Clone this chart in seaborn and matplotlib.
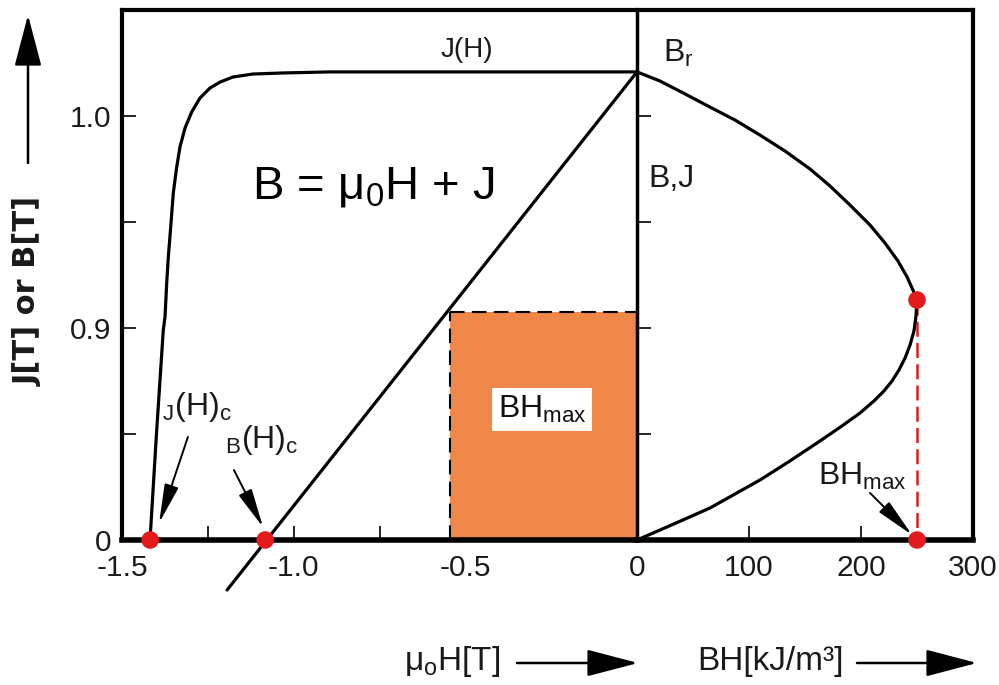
import numpy as np
import pandas as pd
import matplotlib
matplotlib.use("Agg")
import matplotlib.pyplot as plt
import matplotlib.patches as mpatches
import seaborn as sns

# ---------------- data ----------------
# J(H) demagnetisation curve (left panel, x = mu0*H [T])
jh_h = [-1.4184, -1.3989, -1.3797, -1.3747, -1.3698, -1.3651, -1.3581, -1.3506,
        -1.3407, -1.3311, -1.3165, -1.2970, -1.2728, -1.2437, -1.2146, -1.1767,
        -1.1184, -1.0310, -0.8941, 0.0]
jh_j = [0.8000, 0.8519, 0.8991, 0.9052, 0.9212, 0.9335, 0.9476, 0.9637,
        0.9759, 0.9854, 0.9943, 1.0019, 1.0085, 1.0132, 1.0160, 1.0184,
        1.0198, 1.0203, 1.0208, 1.0208]
# B(H) line
bh_h = [-1.194, 0.0]
bh_b = [0.7764, 1.0208]
# BH product curve (right panel, x = BH [kJ/m3])
prod_bh = [0, 20.5, 42.9, 65.2, 87.5, 109.8, 132.1, 154.5, 172.3, 190.2, 208.0,
           221.4, 233.0, 241.1, 246.4, 250.0, 249.1, 247.3, 243.8, 239.3, 233.9,
           227.7, 220.5, 211.6, 199.1, 183.0, 163.4, 136.6, 109.8, 87.5, 65.2,
           42.9, 20.5, 0]
prod_b = [1.0208, 1.0165, 1.0104, 1.0042, 0.9981, 0.9910, 0.9835, 0.9750,
          0.9670, 0.9580, 0.9486, 0.9401, 0.9316, 0.9241, 0.9179, 0.9132,
          0.9057, 0.8986, 0.8920, 0.8858, 0.8802, 0.8750, 0.8703, 0.8656,
          0.8599, 0.8538, 0.8467, 0.8373, 0.8283, 0.8217, 0.8151, 0.8099,
          0.8047, 0.8000]
# BHmax rectangle
rect_h = [-0.545, 0.0]
rect_b = 0.9075
# red points
left_pts_h = [-1.418, -1.083]
left_pts_b = [0.800, 0.800]
right_pts_bh = [250, 250]
right_pts_b = [0.9132, 0.800]
# ticks
left_xticks = [-1.5, -1.0, -0.5, 0.0]
left_xlabels = ["-1.5", "-1.0", "-0.5", "0"]
left_xminor = [-1.25, -0.75]
yticks = [0.8, 0.9, 1.0]
ylabels = ["0", "0.9", "1.0"]
yminor = [0.85, 0.95]
right_xticks = [100, 200, 300]
right_xlabels = ["100", "200", "300"]

ORANGE = "#EF8748"
RED = "#E41A1C"
TXT = "#1a1a1a"

# ---------------- style ----------------
sns.set_theme(style="white")
plt.rcParams["font.family"] = ["Liberation Sans", "DejaVu Sans"]
plt.rcParams["mathtext.fontset"] = "custom"
plt.rcParams["mathtext.rm"] = "Liberation Sans"

fig = plt.figure(figsize=(9.99, 6.85), dpi=100)
W, H = 999, 685

def fx(px):
    return px / W

def fy(py):
    return 1 - py / H

axL = fig.add_axes([fx(122), fy(540), fx(637) - fx(122), fy(10) - fy(540)])
axR = fig.add_axes([fx(637), fy(540), fx(973) - fx(637), fy(10) - fy(540)])

for ax in (axL, axR):
    ax.set_facecolor("white")
    ax.set_ylim(0.8, 1.05)
    for s in ax.spines.values():
        s.set_color("black")
        s.set_linewidth(3)
    ax.spines["bottom"].set_linewidth(4)
    ax.tick_params(which="both", direction="in", length=10, width=1.2,
                   colors="black", labelsize=21.5, labelcolor=TXT)
axL.set_xlim(-1.5, 0)
axR.set_xlim(0, 300)
axL.spines["right"].set_visible(False)
axR.spines["left"].set_linewidth(2.5)

# ---- left panel ----
axL.fill_between(rect_h, 0.8, rect_b, color=ORANGE, lw=0, zorder=1)
axL.plot([rect_h[0], rect_h[1]], [rect_b, rect_b], color="black", lw=1.5,
         ls=(0, (7, 3.5)), zorder=2)
axL.plot([rect_h[0], rect_h[0]], [0.8, rect_b], color="black", lw=1.5,
         ls=(0, (7, 3.5)), zorder=2)
sns.lineplot(x=jh_h, y=jh_j, ax=axL, color="black", lw=2.3, sort=False,
             estimator=None, zorder=3)
sns.lineplot(x=bh_h, y=bh_b, ax=axL, color="black", lw=2.3, sort=False,
             estimator=None, zorder=3, clip_on=False)
sns.scatterplot(x=left_pts_h, y=left_pts_b, ax=axL, color=RED, s=160,
                edgecolor="none", zorder=6, clip_on=False)

axL.set_xticks(left_xticks)
axL.set_xticklabels(left_xlabels)
axL.set_xticks(left_xminor, minor=True)
axL.set_yticks(yticks)
axL.set_yticklabels(ylabels)
axL.set_yticks(yminor, minor=True)
axL.tick_params(axis="x", which="both", bottom=True, pad=10)
axL.tick_params(axis="y", which="both", left=True, pad=8)

# ---- right panel ----
axR.plot([right_pts_bh[0], right_pts_bh[1]], [right_pts_b[0], right_pts_b[1]],
         color=RED, lw=1.8, ls=(0, (6, 2.5)), zorder=2)
sns.lineplot(x=prod_bh, y=prod_b, ax=axR, color="black", lw=2.3, sort=False,
             estimator=None, zorder=3)
sns.scatterplot(x=right_pts_bh, y=right_pts_b, ax=axR, color=RED, s=160,
                edgecolor="none", zorder=6, clip_on=False)
axR.set_xticks(right_xticks)
axR.set_xticklabels(right_xlabels)
axR.set_yticks([0.85, 0.9, 0.95, 1.0])
axR.set_yticklabels([])
axR.tick_params(axis="x", bottom=True, pad=10)
axR.tick_params(axis="y", left=True, right=False)
for ax in (axL, axR):
    ax.set_xlabel("")
    ax.set_ylabel("")

# ---- annotations ----
axL.text(-0.495, 1.0278, "J(H)", fontsize=20, ha="center", va="baseline", color=TXT)
axL.text(-1.1213, 0.9613, r"B = $\mathregular{μ_0}$H + J", fontsize=34,
         ha="left", va="baseline", color="black")
axL.text(-0.2766, 0.8575, r"BH$_\mathregular{max}$", fontsize=23, ha="center",
         va="baseline", color="#111111", zorder=5,
         bbox=dict(boxstyle="square,pad=0.18", fc="white", ec="none"))
axL.text(-1.282, 0.859, r"$_\mathregular{J}$(H)$_\mathregular{c}$", fontsize=23,
         ha="center", va="baseline", color=TXT)
axL.text(-1.092, 0.8434, r"$_\mathregular{B}$(H)$_\mathregular{c}$", fontsize=23,
         ha="center", va="baseline", color=TXT)
arrow_kw = dict(arrowstyle="-|>,head_length=1.2,head_width=0.22", color="black",
                lw=1.4, mutation_scale=20, shrinkA=0, shrinkB=0)
axL.annotate("", xy=(-1.392, 0.808), xytext=(-1.308, 0.8486), arrowprops=arrow_kw,
             annotation_clip=False)
axL.annotate("", xy=(-1.089, 0.806), xytext=(-1.174, 0.833), arrowprops=arrow_kw,
             annotation_clip=False)

axR.text(36.6, 1.0255, r"B$_\mathregular{r}$", fontsize=23, ha="center",
         va="baseline", color=TXT)
axR.text(31, 0.9665, "B,J", fontsize=23, ha="center", va="baseline", color=TXT)
axR.text(201, 0.826, r"BH$_\mathregular{max}$", fontsize=23, ha="center",
         va="baseline", color=TXT)
axR.annotate("", xy=(245.6, 0.8024), xytext=(208, 0.8222), arrowprops=arrow_kw,
             annotation_clip=False)

# ---- axis labels with arrows ----
fig.text(fx(28), fy(291), "J[T] or B[T]", rotation=90, ha="center", va="center",
         fontsize=22, fontweight="bold", family="DejaVu Sans", color=TXT)
head = "-|>,head_length=1.6,head_width=0.42"
fig.add_artist(mpatches.FancyArrowPatch(
    (fx(28), fy(163)), (fx(28), fy(15)), transform=fig.transFigure,
    arrowstyle=head, mutation_scale=20, color="black", lw=1.8, shrinkA=0, shrinkB=0))
fig.text(fx(452), fy(670), r"μ$_\mathregular{o}$H[T]", fontsize=24, ha="center",
         va="baseline", color=TXT)
fig.add_artist(mpatches.FancyArrowPatch(
    (fx(517), fy(663)), (fx(638), fy(663)), transform=fig.transFigure,
    arrowstyle=head, mutation_scale=20, color="black", lw=1.8, shrinkA=0, shrinkB=0))
fig.text(fx(770), fy(670), "BH[kJ/m³]", fontsize=24, ha="center",
         va="baseline", color=TXT)
fig.add_artist(mpatches.FancyArrowPatch(
    (fx(857), fy(663)), (fx(977), fy(663)), transform=fig.transFigure,
    arrowstyle=head, mutation_scale=20, color="black", lw=1.8, shrinkA=0, shrinkB=0))

fig.savefig("out.png", dpi=100, facecolor="white")
